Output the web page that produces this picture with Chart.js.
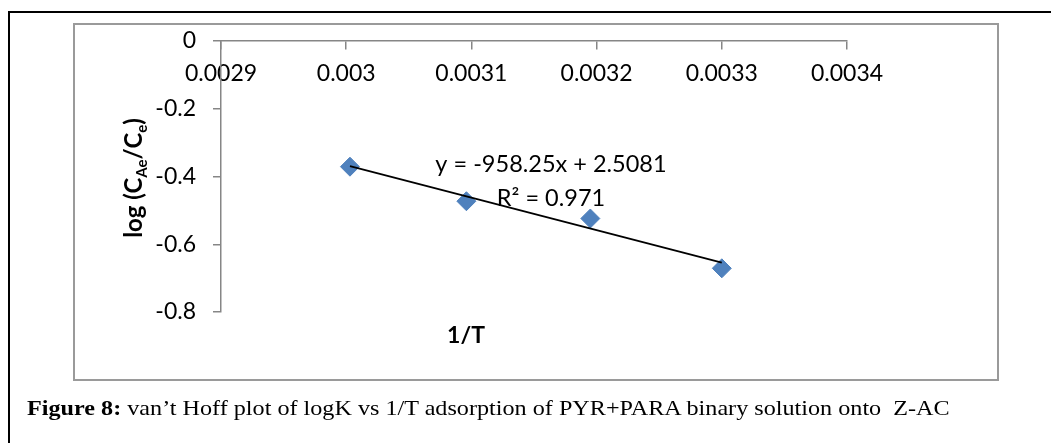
<!DOCTYPE html>
<html>
<head>
    <title>van't Hoff plot</title>
    <script src="https://cdn.jsdelivr.net/npm/chart.js"></script>
    <style>
        html, body { margin: 0; padding: 0; background: #fff; overflow: hidden; }
        .page { position: relative; width: 1051px; height: 443px; }
        .outer { position: absolute; left: 8px; top: 11px; width: 1100px; height: 500px; border: 2px solid #000; }
        .inner { position: absolute; left: 73px; top: 23px; width: 922px; height: 354px; border: 2px solid #9a9a9a; }
        canvas { position: absolute; left: 0; top: 0; }
        .caption { position: absolute; left: 27px; top: 396px; font-family: "Liberation Serif", "Times New Roman", serif;
                   font-size: 21px; line-height: 24px; color: #000; white-space: pre; transform-origin: 0 0; }
    </style>
</head>
<body>
<div class="page">
    <div class="outer"></div>
    <div class="inner"></div>
    <canvas id="chart" width="1051" height="443"></canvas>
    <div class="caption" id="caption"><b>Figure 8:</b> van’t Hoff plot of logK vs 1/T adsorption of PYR+PARA binary solution onto  Z-AC</div>
</div>

<script>
    // data
    const invT = [0.003003, 0.003096, 0.003195, 0.0033];
    const logK = [-0.371, -0.473, -0.524, -0.671];

    // linear trendline as printed on the chart
    const slope = -958.25;
    const intercept = 2.5081;
    const r2 = 0.971;

    const xTicks = [0.0029, 0.003, 0.0031, 0.0032, 0.0033, 0.0034];
    const xTickLabels = ['0.0029', '0.003', '0.0031', '0.0032', '0.0033', '0.0034'];
    const yTicks = [-0.8, -0.6, -0.4, -0.2, 0];
    const yTickLabels = ['-0.8', '-0.6', '-0.4', '-0.2', '0'];

    const axisGrey = '#868686';
    const font = 'Lato';

    // stretch the caption to the width it has in the figure
    const cap = document.getElementById('caption');
    cap.style.transform = 'scaleX(' + (923 / cap.offsetWidth) + ')';

    function labelFor(ticks, labels, v) {
        for (let i = 0; i < ticks.length; i++) {
            if (Math.abs(ticks[i] - v) < 1e-9) return labels[i];
        }
        return '';
    }

    const fitLine = [invT[0], invT[invT.length - 1]].map(x => ({ x: x, y: slope * x + intercept }));

    const textPlugin = {
        id: 'texts',
        afterDatasetsDraw(chart) {
            const ctx = chart.ctx;
            const a = chart.chartArea;
            ctx.save();
            ctx.fillStyle = '#000';
            ctx.textBaseline = 'alphabetic';

            // trendline equation
            ctx.font = '23.5px ' + font;
            ctx.textAlign = 'center';
            const ex = a.left + 330;
            ctx.fillText('y = ' + slope + 'x + ' + intercept, ex, a.top + 131);
            ctx.fillText('R² = ' + r2, ex, a.top + 165);

            // x axis title
            ctx.font = 'bold 23px ' + font;
            ctx.fillText('1/T', a.left + 245, a.top + 302);

            // y axis title with subscripts
            const parts = [
                ['log (C', 24, 0], ['Ae', 15, 5], ['/C', 24, 0], ['e', 15, 5], [')', 24, 0]
            ];
            let total = 0;
            parts.forEach(p => { ctx.font = 'bold ' + p[1] + 'px ' + font; p.push(ctx.measureText(p[0]).width); total += p[3]; });
            ctx.translate(142, a.top + 137);
            ctx.rotate(-Math.PI / 2);
            ctx.textAlign = 'left';
            let px = -total / 2;
            parts.forEach(p => {
                ctx.font = 'bold ' + p[1] + 'px ' + font;
                ctx.fillText(p[0], px, p[2]);
                px += p[3];
            });
            ctx.restore();
        }
    };

    new Chart(document.getElementById('chart'), {
        type: 'scatter',
        data: {
            datasets: [
                {
                    type: 'line',
                    data: fitLine,
                    borderColor: '#000',
                    borderWidth: 1.8,
                    pointRadius: 0,
                    fill: false,
                    order: 0
                },
                {
                    data: invT.map((x, i) => ({ x: x, y: logK[i] })),
                    pointStyle: 'rectRot',
                    pointRadius: 9.5,
                    backgroundColor: '#4f81bd',
                    borderColor: '#4f81bd',
                    borderWidth: 1,
                    order: 1
                }
            ]
        },
        options: {
            responsive: false,
            animation: false,
            layout: { padding: { left: 0, top: 41, right: 204, bottom: 131 } },
            plugins: { legend: { display: false }, tooltip: { enabled: false } },
            scales: {
                x: {
                    type: 'linear',
                    position: { y: 0 },
                    min: 0.0029,
                    max: 0.0034,
                    afterBuildTicks: s => { s.ticks = xTicks.map(v => ({ value: v })); },
                    ticks: {
                        color: '#000',
                        font: { family: font, size: 23 },
                        padding: 11,
                        maxRotation: 0,
                        autoSkip: false,
                        callback: v => labelFor(xTicks, xTickLabels, v)
                    },
                    grid: { drawOnChartArea: false, drawTicks: true, tickLength: 8, color: axisGrey, lineWidth: 1.5 },
                    border: { color: axisGrey, width: 1.5 }
                },
                y: {
                    type: 'linear',
                    min: -0.8,
                    max: 0,
                    afterBuildTicks: s => { s.ticks = yTicks.map(v => ({ value: v })); },
                    afterFit: s => { s.width = 221; },
                    ticks: {
                        color: '#000',
                        font: { family: font, size: 23 },
                        padding: 17,
                        callback: v => labelFor(yTicks, yTickLabels, v)
                    },
                    grid: { drawOnChartArea: false, drawTicks: true, tickLength: 8, color: axisGrey, lineWidth: 1.5 },
                    border: { color: axisGrey, width: 1.5 }
                }
            }
        },
        plugins: [textPlugin]
    });
</script>
</body>
</html>
